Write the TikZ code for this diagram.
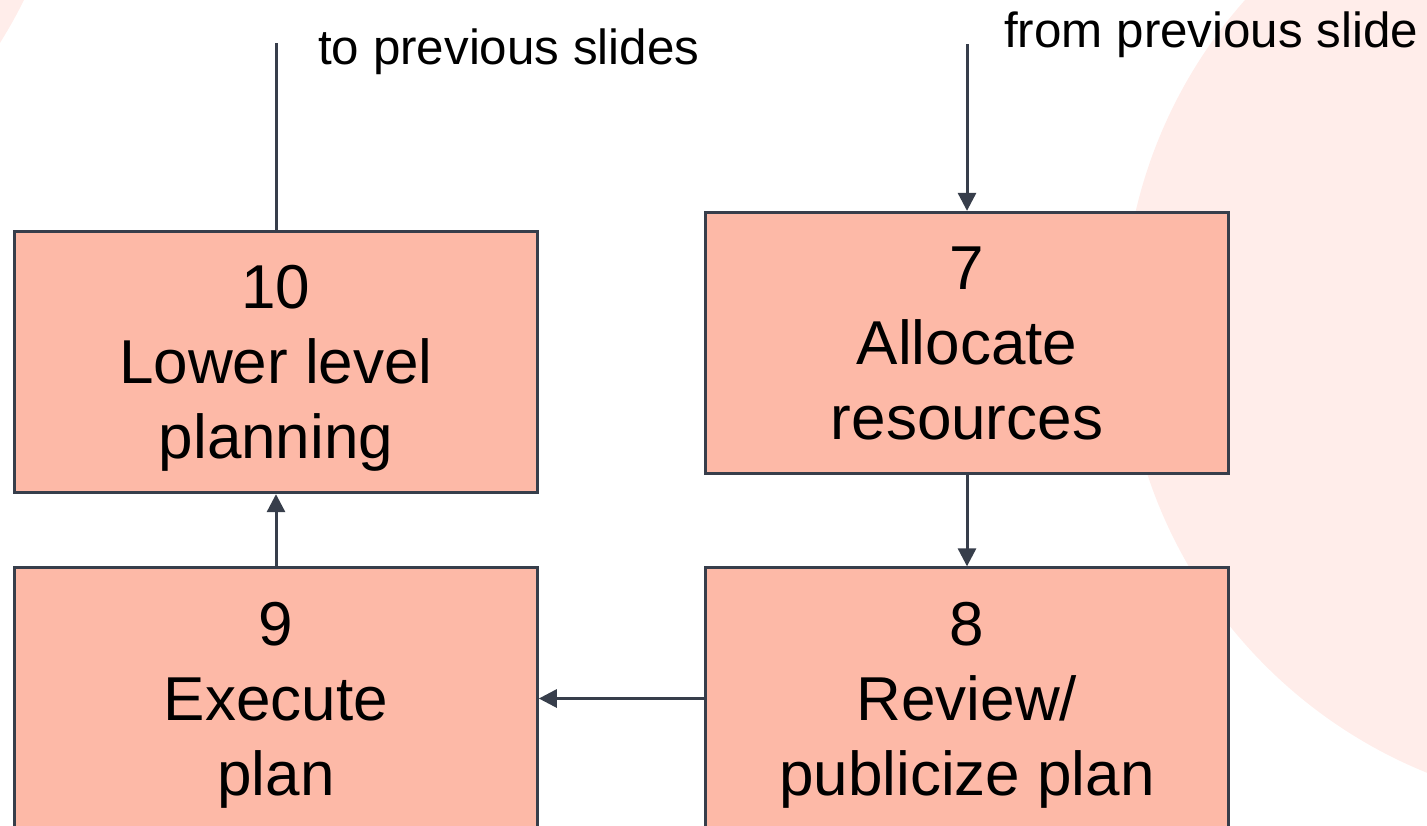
\documentclass[tikz,border=0pt]{standalone}
\usepackage{fontspec}
\setmainfont{Liberation Sans}
\usetikzlibrary{arrows.meta}
\definecolor{blush}{HTML}{FFEDEA}
\definecolor{salmon}{HTML}{FDB9A7}
\definecolor{slate}{HTML}{373E4B}
\begin{document}
\begin{tikzpicture}[x=0.75pt,y=-0.75pt,
  stepbox/.style={draw=slate, line width=2.25pt, fill=salmon,
    minimum width=392pt, minimum height=196pt, align=center,
    inner sep=0pt, text depth=0pt,
    font=\fontsize{46.5}{56.25}\selectfont},
  flow/.style={draw=slate, line width=2.25pt,
    -{Triangle[length=13.5pt,width=13.5pt]}},
  link/.style={draw=slate, line width=2.25pt},
  note/.style={font=\fontsize{37}{44}\selectfont, inner sep=0pt, anchor=base west}]
\useasboundingbox (0,0) rectangle (1427,825);

% soft background discs
\begin{scope}
  \clip (0,0) rectangle (1427,825);
  \fill[blush] (1609,322) circle[radius=364.5pt];
  \fill[blush] (-412,-215) circle[radius=364.5pt];
\end{scope}

% process steps
\node[stepbox] (n10) at (276,362)   {10\\Lower level\\planning};
\node[stepbox] (n7)  at (967,343)   {7\\Allocate\\resources};
\node[stepbox] (n9)  at (276,698.5) {9\\Execute\\plan};
\node[stepbox] (n8)  at (967,698.5) {8\\Review/\\publicize plan};

% off-page references
\node[note] (lblto)   at (318,64)  {to previous slides};
\node[note] (lblfrom) at (1004,47) {from previous slide};
\coordinate (toprev)   at (276,43);
\coordinate (fromprev) at (967,44);

% connectors
\draw[link] (n10.north) -- (toprev);
\draw[flow] (fromprev) -- (n7.north);
\draw[flow] (n7.south) -- (n8.north);
\draw[flow] (n8.west) -- (n9.east);
\draw[flow] (n9.north) -- (n10.south);
\end{tikzpicture}
\end{document}
